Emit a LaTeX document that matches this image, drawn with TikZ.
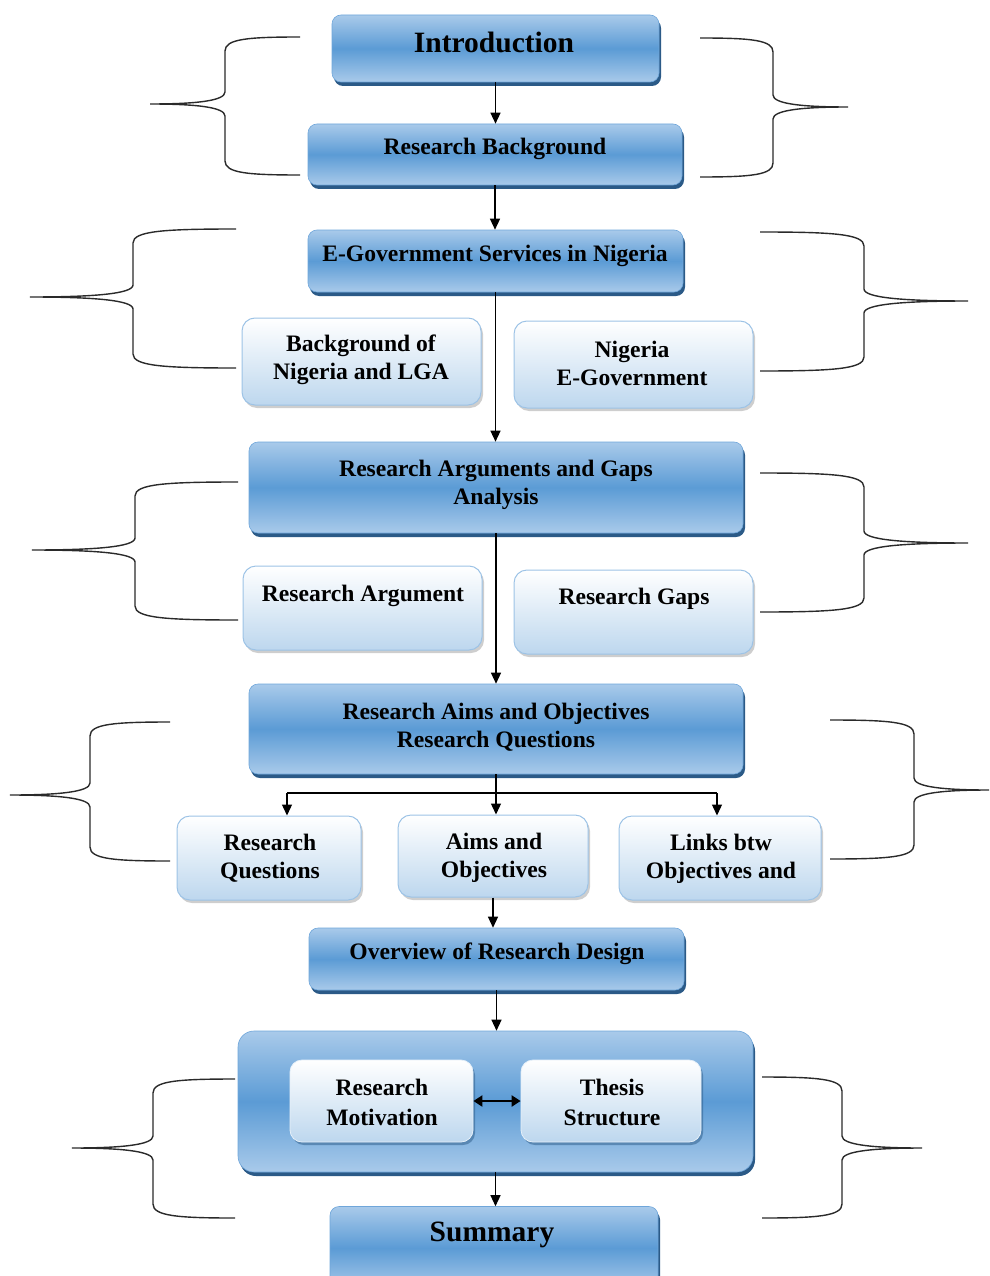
\documentclass[tikz,border=0pt]{standalone}
\usepackage{fontspec}
\setmainfont{Liberation Serif}
\usetikzlibrary{arrows.meta,shadows,calc}

\definecolor{bluemid}{HTML}{5B9BD5}
\definecolor{bluelite}{HTML}{A9CAEA}
\definecolor{blueedge}{HTML}{6FA6DA}
\definecolor{blueshade}{HTML}{2B5A87}
\definecolor{palebot}{HTML}{BDD7EE}
\definecolor{paleedge}{HTML}{9DC3E6}
\definecolor{inkgray}{HTML}{2A2A2A}

\tikzset{
  darkbox/.style={draw=blueedge, line width=0.6pt, rounded corners=9pt,
    top color=bluelite, bottom color=bluelite, middle color=bluemid,
    drop shadow={shadow xshift=2pt, shadow yshift=-4pt, fill=blueshade, opacity=1},
    inner sep=0pt},
  palebox/.style={draw=paleedge, line width=1pt, rounded corners=13pt,
    top color=white, bottom color=palebot,
    drop shadow={shadow xshift=2pt, shadow yshift=-3pt, fill=gray!55, opacity=0.7},
    inner sep=0pt},
  innerbox/.style={draw=white!85!bluemid, line width=0.8pt, rounded corners=12pt,
    top color=white, bottom color=palebot,
    drop shadow={shadow xshift=2pt, shadow yshift=-3pt, fill=blueshade, opacity=0.5},
    inner sep=0pt},
  boxtext/.style={font=\fontsize{23.6}{28}\selectfont\bfseries, align=center, inner sep=0pt, text=black},
  bigtext/.style={font=\fontsize{29.5}{34}\selectfont\bfseries, align=center, inner sep=0pt, text=black},
  flow/.style={-{Triangle[length=11pt,width=10pt]}, line width=1.3pt, draw=black},
  twoway/.style={{Triangle[length=9pt,width=11pt]}-{Triangle[length=9pt,width=11pt]}, line width=2.2pt, draw=black},
  bus/.style={line width=1.3pt, draw=black},
  bracepen/.style={draw=inkgray, line width=1.4pt},
}

% curly brace: ends x, stem x, tip x, top y, tip y, bottom y
\newcommand\bracepath[6]{%
  \draw[bracepen] (#1,#4)
    .. controls ({#2+0.3*(#1-#2)},#4) and (#2,{#4+2}) .. (#2,{#4+14})
    -- (#2,{#5-12})
    .. controls (#2,{#5-3}) and ({#2+0.4*(#3-#2)},#5) .. (#3,#5)
    .. controls ({#2+0.4*(#3-#2)},#5) and (#2,{#5+3}) .. (#2,{#5+12})
    -- (#2,{#6-14})
    .. controls (#2,{#6-2}) and ({#2+0.3*(#1-#2)},#6) .. (#1,#6);}

\begin{document}
\begin{tikzpicture}[x=1pt, y=-1pt]
\useasboundingbox (0,0) rectangle (989,1276);
\clip (0,0) rectangle (989,1276);

% boxes
\node[darkbox, minimum width=327pt, minimum height=67pt] (intro) at (495.5,48.5) {};
\node[darkbox, minimum width=374pt, minimum height=61pt] (rb) at (495,154.5) {};
\node[darkbox, minimum width=375pt, minimum height=62pt] (egov) at (495.5,261) {};
\node[palebox, minimum width=239pt, minimum height=87pt] (bkg) at (361.5,361.5) {};
\node[palebox, minimum width=239pt, minimum height=87pt] (nge) at (633.5,364.5) {};
\node[darkbox, minimum width=494pt, minimum height=91pt] (rag) at (496,487.5) {};
\node[palebox, minimum width=239pt, minimum height=84pt] (rarg) at (362.5,608) {};
\node[palebox, minimum width=239pt, minimum height=84pt] (rgap) at (633.5,612) {};
\node[darkbox, minimum width=494pt, minimum height=90pt] (raims) at (496,729) {};
\node[palebox, minimum width=184pt, minimum height=84pt] (rq) at (269,858) {};
\node[palebox, minimum width=190pt, minimum height=82pt] (ao) at (493,856) {};
\node[palebox, minimum width=202pt, minimum height=84pt] (lk) at (720,858) {};
\node[darkbox, minimum width=375pt, minimum height=62pt] (ov) at (496.5,959) {};
\node[darkbox, rounded corners=16pt, minimum width=515pt, minimum height=141pt] (cont) at (495.5,1101.5) {};
\node[innerbox, minimum width=183pt, minimum height=82pt] (mot) at (381.5,1101) {};
\node[innerbox, minimum width=180pt, minimum height=82pt] (ths) at (611,1101) {};
\node[darkbox, minimum width=328pt, minimum height=83pt] (sum) at (494,1248) {};

% texts
\node[bigtext] (intro-t) at (494,42) {Introduction};
\node[boxtext] (rb-t) at (495,149) {Research Background};
\node[boxtext] (egov-t) at (495,256) {E-Government Services in Nigeria};
\node[boxtext] (bkg-t) at (361,360) {Background of\\Nigeria and LGA};
\node[boxtext] (nge-t) at (632,363.5) {Nigeria\\E-Government};
\node[boxtext] (rag-t) at (496,485) {Research Arguments and Gaps\\Analysis};
\node[boxtext] (rarg-t) at (363,596) {Research Argument};
\node[boxtext] (rgap-t) at (634,599) {Research Gaps};
\node[boxtext] (raims-t) at (496,727) {Research Aims and Objectives\\Research Questions};
\node[boxtext] (rq-t) at (270,858.5) {Research\\Questions};
\node[boxtext] (ao-t) at (494,857.5) {Aims and\\Objectives};
\node[boxtext] (lk-t) at (721,858.5) {Links btw\\Objectives and};
\node[boxtext] (ov-t) at (497,954) {Overview of Research Design};
\node[boxtext, font=\fontsize{23.6}{30}\selectfont\bfseries] (mot-t) at (382,1102.5) {Research\\Motivation};
\node[boxtext, font=\fontsize{23.6}{30}\selectfont\bfseries] (ths-t) at (612,1102.5) {Thesis\\Structure};
\node[bigtext] (sum-t) at (492,1235) {Summary};

% connectors
\draw[flow] (intro.south) -- (intro.south |- rb.north);
\draw[flow] (rb.south) -- (rb.south |- egov.north);
\draw[flow] (egov.south) -- (egov.south |- rag.north);
\draw[flow] (rag.south) -- (rag.south |- raims.north);
\coordinate (busL) at (287,793);
\coordinate (busM) at (496,793);
\coordinate (busR) at (717,793);
\draw[bus] (raims.south) -- (busM);
\draw[bus] (busL) -- (busR);
\draw[flow] (busL) -- (busL |- rq.north);
\draw[flow] (busM) -- (busM |- ao.north);
\draw[flow] (busR) -- (busR |- lk.north);
\draw[flow] (ao.south) -- (ao.south |- ov.north);
\draw[flow] (ov.south) -- (ov.south |- cont.north);
\draw[flow] (cont.south) -- (cont.south |- sum.north);
\draw[twoway] (mot) -- (ths);

% braces
\bracepath{300}{225}{150}{37}{104}{175}
\bracepath{700}{773}{848}{38}{107}{177}
\bracepath{236}{133}{30}{229}{297}{368}
\bracepath{760}{864}{968}{232}{301}{371}
\bracepath{238}{135}{32}{482}{550}{620}
\bracepath{760}{864}{968}{473}{543}{612}
\bracepath{170}{90}{10}{722}{795}{861}
\bracepath{830}{914}{989}{720}{790}{859}
\bracepath{235}{153}{72}{1079}{1148}{1218}
\bracepath{762}{842}{922}{1077}{1148}{1218}
\end{tikzpicture}
\end{document}
